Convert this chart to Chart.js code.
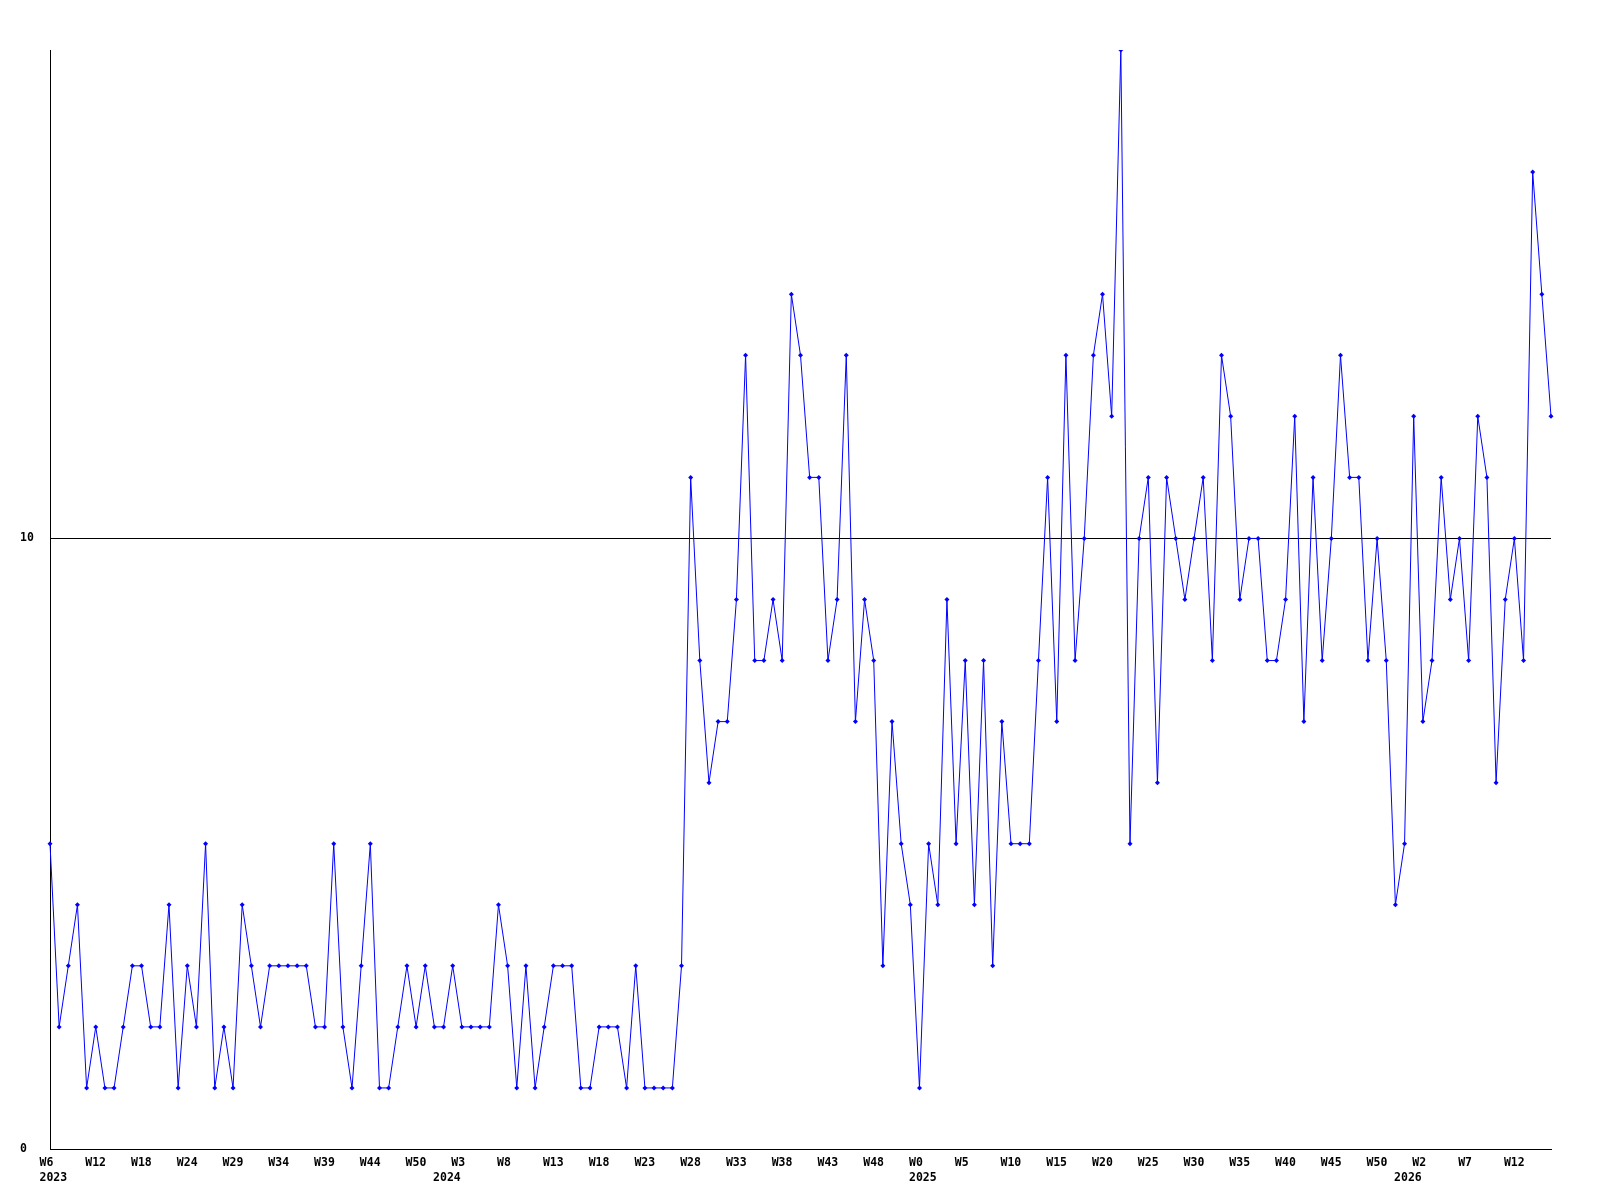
<!DOCTYPE html>
<html>
<head>
<meta charset="utf-8">
<title>Weekly chart</title>
<script src="https://cdn.jsdelivr.net/npm/chart.js@4.4.1/dist/chart.umd.min.js"></script>
<style>
  body { margin: 0; background: #fff; }
  #wrap { width: 1600px; height: 1200px; }
</style>
</head>
<body>
<div id="wrap"><canvas id="chart" width="1600" height="1200"></canvas></div>
<script>
// one value per data point, left to right
const values = [
  5, 2, 3, 4, 1, 2, 1, 1, 2, 3, 3, 2, 2, 4, 1, 3, 2, 5, 1, 2,
  1, 4, 3, 2, 3, 3, 3, 3, 3, 2, 2, 5, 2, 1, 3, 5, 1, 1, 2, 3,
  2, 3, 2, 2, 3, 2, 2, 2, 2, 4, 3, 1, 3, 1, 2, 3, 3, 3, 1, 1,
  2, 2, 2, 1, 3, 1, 1, 1, 1, 3, 11, 8, 6, 7, 7, 9, 13, 8, 8, 9,
  8, 14, 13, 11, 11, 8, 9, 13, 7, 9, 8, 3, 7, 5, 4, 1, 5, 4, 9, 5,
  8, 4, 8, 3, 7, 5, 5, 5, 8, 11, 7, 13, 8, 10, 13, 14, 12, 18, 5, 10,
  11, 6, 11, 10, 9, 10, 11, 8, 13, 12, 9, 10, 10, 8, 8, 9, 12, 7, 11, 8,
  10, 13, 11, 11, 8, 10, 8, 4, 5, 12, 7, 8, 11, 9, 10, 8, 12, 11, 6, 9,
  10, 8, 16, 14, 12
]

// week labels, one on every 5th point
const tickEvery = 5
const weekTicks = [
  "W6", "W12", "W18", "W24", "W29", "W34", "W39", "W44", "W50",
  "W3", "W8", "W13", "W18", "W23", "W28", "W33", "W38", "W43", "W48",
  "W0", "W5", "W10", "W15", "W20", "W25", "W30", "W35", "W40", "W45", "W50",
  "W2", "W7", "W12"
]

// year labels sit under the first point of each year
const years = ["2023", "2024", "2025", "2026"]
const yearStart = [0, 43, 95, 148]

const yTicks = [0, 10]
const yMax = 18

// two-line category labels: week on top, year below
const labels = values.map((v, i) => {
  const week = i % tickEvery === 0 ? (weekTicks[i / tickEvery] || "") : ""
  const y = yearStart.indexOf(i)
  return [week, y >= 0 ? years[y] : ""]
})

const tickFont = { family: "'DejaVu Sans Mono', monospace", size: 11.5, weight: "bold", lineHeight: 1.28 }

new Chart(document.getElementById("chart"), {
  type: "line",
  data: {
    labels: labels,
    datasets: [{
      data: values,
      borderColor: "#0000ff",
      backgroundColor: "#0000ff",
      borderWidth: 1,
      pointStyle: "rectRot",
      pointRadius: 2.5,
      pointBorderWidth: 0,
      tension: 0
    }]
  },
  options: {
    responsive: false,
    animation: false,
    layout: { padding: { left: 20, top: 50, right: 49, bottom: 0 } },
    plugins: { legend: { display: false }, tooltip: { enabled: false } },
    scales: {
      x: {
        type: "category",
        offset: false,
        grid: { display: false, drawTicks: false },
        border: { display: true, color: "#000", width: 1 },
        ticks: {
          autoSkip: false,
          maxRotation: 0,
          minRotation: 0,
          align: "start",
          labelOffset: -10.5,
          padding: 7,
          color: "#000",
          font: tickFont
        },
        afterFit: s => { s.height = 51 }
      },
      y: {
        min: 0,
        max: yMax,
        afterBuildTicks: s => { s.ticks = yTicks.map(v => ({ value: v })) },
        grid: { color: "#000", lineWidth: 1, drawTicks: false },
        border: { display: true, color: "#000", width: 1 },
        ticks: { crossAlign: "far", padding: 0, color: "#000", font: tickFont },
        afterFit: s => { s.width = 30 }
      }
    }
  }
})
</script>
</body>
</html>
